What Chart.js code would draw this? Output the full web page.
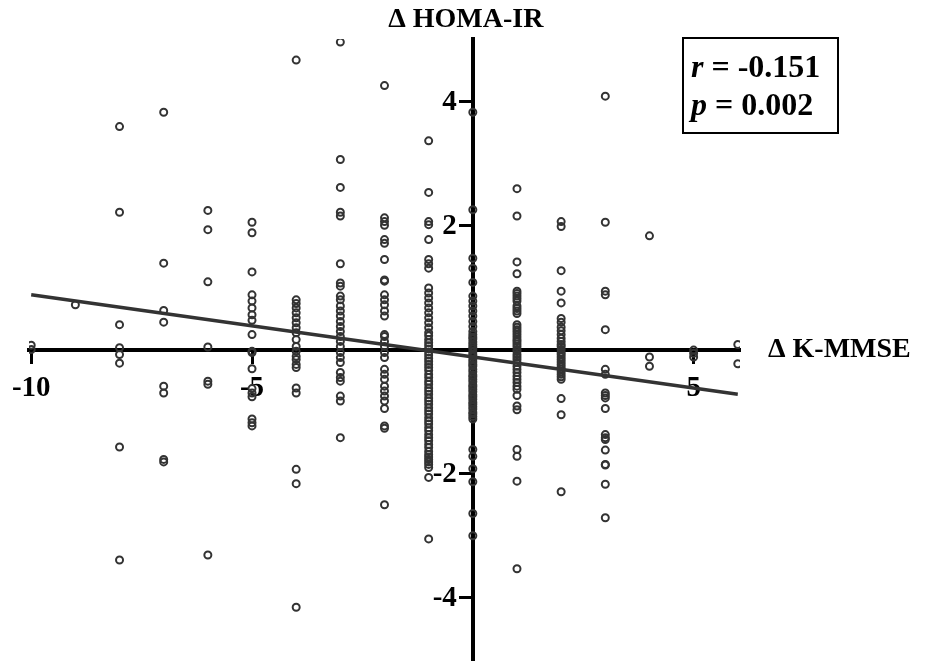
<!DOCTYPE html>
<html>
<head>
<meta charset="utf-8">
<script src="https://cdn.jsdelivr.net/npm/chart.js@4/dist/chart.umd.min.js"></script>
<style>
  html, body { margin: 0; padding: 0; background: #fff; }
  #wrap { width: 927px; height: 666px; position: relative; }
</style>
</head>
<body>
<div id="wrap"><canvas id="scatterChart"></canvas></div>
<script>
// change in K-MMSE (integer scores) and the change in HOMA-IR read for each score
var kmmseValues = [-10, -9, -8, -7, -6, -5, -4, -3, -2, -1, 0, 1, 2, 3, 4, 5, 6];
var homaValues = [
    [0.07, 0.00],
    [0.72],
    [3.59, 2.21, 0.40, 0.03, -0.08, -0.22, -1.57, -3.39],
    [3.82, 1.39, 0.63, 0.44, -0.59, -0.70, -1.77, -1.81],
    [2.24, 1.93, 1.09, 0.04, -0.51, -0.56, -3.31],
    [2.05, 1.88, 1.25, 0.88, 0.78, 0.67, 0.56, 0.47, 0.24, -0.03, -0.05, -0.31, -0.63, -0.70, -0.76, -1.12, -1.18, -1.23],
    [4.66, 0.80, 0.74, 0.67, 0.59, 0.51, 0.43, 0.35, 0.27, 0.16, 0.05, -0.03, -0.11, -0.16, -0.24, -0.29, -0.62, -0.70, -1.93, -2.16, -4.15],
    [4.95, 3.06, 2.61, 2.21, 2.15, 1.38, 1.07, 1.02, 0.86, 0.80, 0.70, 0.62, 0.54, 0.45, 0.37, 0.29, 0.21, 0.13, 0.05, -0.05, -0.13, -0.21, -0.37, -0.45, -0.51, -0.75, -0.83, -1.42],
    [4.25, 2.12, 2.06, 2.00, 1.77, 1.71, 1.45, 1.12, 1.10, 0.88, 0.80, 0.72, 0.62, 0.54, 0.24, 0.21, 0.13, 0.05, -0.05, -0.13, -0.32, -0.40, -0.48, -0.59, -0.67, -0.75, -0.83, -0.95, -1.23, -1.27, -2.50],
    [3.36, 2.53, 2.06, 2.01, 1.77, 1.45, 1.38, 1.31, 0.99, 0.91, 0.83, 0.75, 0.67, 0.59, 0.51, 0.43, 0.35, 0.27, 0.22, 0.16, 0.11, 0.06, 0.01, -0.04, -0.09, -0.14, -0.19, -0.24, -0.29, -0.34, -0.40, -0.45, -0.51, -0.56, -0.62, -0.67, -0.72, -0.78, -0.83, -0.88, -0.94, -0.99, -1.04, -1.10, -1.15, -1.20, -1.26, -1.31, -1.37, -1.42, -1.47, -1.53, -1.58, -1.64, -1.69, -1.73, -1.77, -1.81, -1.85, -1.90, -2.06, -3.05],
    [3.82, 2.25, 1.47, 1.31, 1.08, 0.86, 0.78, 0.70, 0.62, 0.54, 0.45, 0.37, 0.29, 0.24, 0.20, 0.17, 0.12, 0.08, 0.04, 0.01, -0.04, -0.08, -0.11, -0.16, -0.20, -0.24, -0.27, -0.32, -0.36, -0.41, -0.44, -0.48, -0.52, -0.57, -0.60, -0.64, -0.68, -0.73, -0.76, -0.80, -0.85, -0.88, -0.92, -0.96, -1.01, -1.04, -1.08, -1.12, -1.61, -1.72, -1.92, -2.13, -2.64, -3.00],
    [2.59, 2.15, 1.41, 1.22, 0.94, 0.90, 0.86, 0.82, 0.78, 0.70, 0.66, 0.62, 0.58, 0.40, 0.36, 0.32, 0.28, 0.24, 0.20, 0.16, 0.13, 0.09, 0.05, 0.00, -0.03, -0.08, -0.12, -0.16, -0.21, -0.27, -0.32, -0.37, -0.43, -0.48, -0.53, -0.59, -0.64, -0.74, -0.91, -0.97, -1.61, -1.72, -2.12, -3.53],
    [2.06, 1.98, 1.27, 0.94, 0.75, 0.50, 0.44, 0.36, 0.30, 0.24, 0.18, 0.13, 0.08, 0.05, 0.00, -0.05, -0.08, -0.12, -0.16, -0.20, -0.24, -0.28, -0.32, -0.36, -0.40, -0.44, -0.48, -0.79, -1.05, -2.29],
    [4.08, 2.05, 0.94, 0.88, 0.32, -0.32, -0.40, -0.70, -0.74, -0.78, -0.95, -1.37, -1.42, -1.45, -1.62, -1.85, -1.86, -2.17, -2.71],
    [1.83, -0.12, -0.27],
    [-0.01, -0.06, -0.12],
    [0.08, -0.23]
];

// tick labels shown on each axis (0 is left out in the original)
var xTicks = [-10, -5, 5];
var yTicks = [-4, -2, 2, 4];

// fitted regression line
var fitX = [-10, 6];
var fitY = [0.88, -0.72];

var statLines = [['r', ' = -0.151'], ['p', ' = 0.002']];

var points = [];
kmmseValues.forEach(function (k, i) {
    homaValues[i].forEach(function (h) {
        points.push({ x: k, y: h });
    });
});
var fitPoints = fitX.map(function (x, i) { return { x: x, y: fitY[i] }; });

var serif = "'Liberation Serif', 'Times New Roman', serif";

var labelsPlugin = {
    id: 'labelsPlugin',
    afterDraw: function (chart) {
        var c = chart.ctx;
        var area = chart.chartArea;
        var xs = chart.scales.x, ys = chart.scales.y;
        var axisX = xs.getPixelForValue(0);
        c.save();
        c.fillStyle = '#000';

        // y tick labels, left of the ticks (centered axis puts them on the line)
        c.font = 'bold 29px ' + serif;
        c.textAlign = 'right';
        c.textBaseline = 'middle';
        yTicks.forEach(function (v) {
            c.fillText(String(v), axisX - 16, ys.getPixelForValue(v) + 1);
        });

        // axis titles
        c.font = 'bold 28px ' + serif;
        c.textAlign = 'center';
        c.fillText('\u0394 HOMA-IR', axisX - 7, area.top - 19);
        c.textAlign = 'left';
        c.fillText('\u0394 K-MMSE', area.right + 28, ys.getPixelForValue(0));

        // r / p box
        var bx = 683, by = 38, bw = 155, bh = 95;
        c.strokeStyle = '#000';
        c.lineWidth = 2;
        c.strokeRect(bx, by, bw, bh);
        c.textBaseline = 'alphabetic';
        var baselines = [77, 115];
        statLines.forEach(function (line, i) {
            var tx = bx + 8;
            c.font = 'italic bold 32px ' + serif;
            c.fillText(line[0], tx, baselines[i]);
            tx += c.measureText(line[0]).width;
            c.font = 'bold 32px ' + serif;
            c.fillText(line[1], tx, baselines[i]);
        });
        c.restore();
    }
};

var ctx = document.getElementById('scatterChart');
var scatterChart = new Chart(ctx, {
    type: 'scatter',
    data: {
        datasets: [{
            type: 'line',
            data: fitPoints,
            borderColor: '#333',
            borderWidth: 3.5,
            pointRadius: 0,
            fill: false,
            order: 0
        }, {
            data: points,
            pointRadius: 3.5,
            pointBorderWidth: 2,
            borderColor: '#333',
            backgroundColor: 'rgba(0,0,0,0)',
            order: 1
        }]
    },
    options: {
        responsive: true,
        maintainAspectRatio: false,
        animation: false,
        layout: { padding: { left: 29, right: 187, top: 39, bottom: 5 } },
        plugins: { legend: { display: false }, tooltip: { enabled: false } },
        scales: {
            x: {
                type: 'linear',
                min: -10.05,
                max: 6.05,
                position: { y: 0 },
                afterBuildTicks: function (s) { s.ticks = xTicks.map(function (v) { return { value: v }; }); },
                afterFit: function (s) { s.paddingLeft = 0; s.paddingRight = 0; },
                grid: { drawOnChartArea: false, drawTicks: true, tickLength: 12, tickWidth: 3, tickColor: '#000' },
                border: { display: true, color: '#000', width: 4 },
                ticks: {
                    autoSkip: false, maxRotation: 0, padding: 10, color: '#000',
                    font: { family: serif, size: 29, weight: 'bold' }
                }
            },
            y: {
                type: 'linear',
                min: -5,
                max: 5,
                position: { x: 0 },
                afterBuildTicks: function (s) { s.ticks = yTicks.map(function (v) { return { value: v }; }); },
                afterFit: function (s) { s.paddingTop = 0; s.paddingBottom = 0; },
                grid: { drawOnChartArea: false, drawTicks: true, tickLength: 12, tickWidth: 3, tickColor: '#000' },
                border: { display: true, color: '#000', width: 4 },
                ticks: { display: false }
            }
        }
    },
    plugins: [labelsPlugin]
});
</script>
</body>
</html>
